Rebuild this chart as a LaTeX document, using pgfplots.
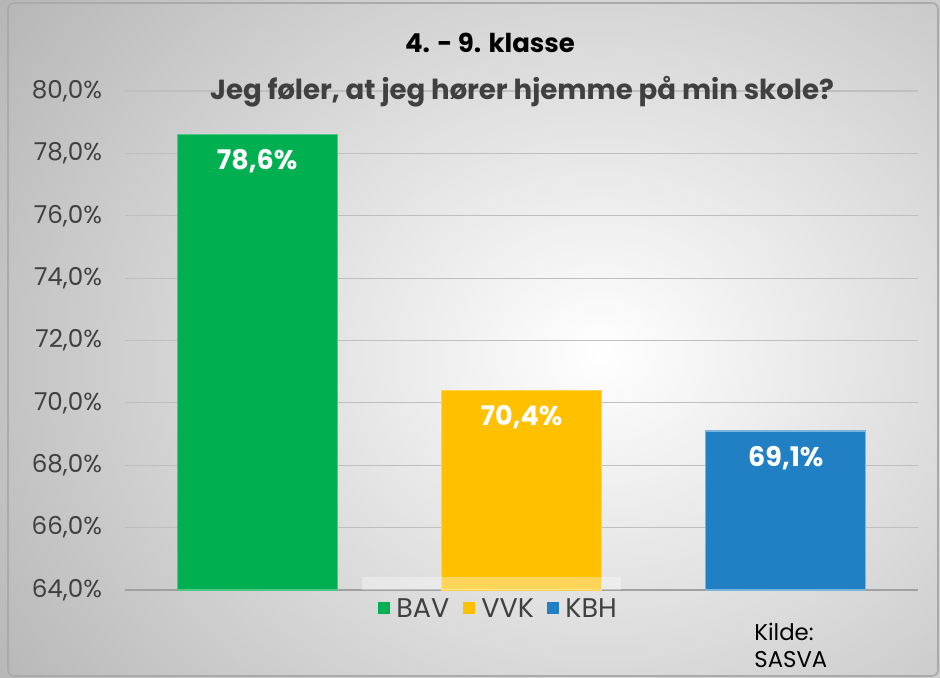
\documentclass[border=0pt]{standalone}
\usepackage{fontspec}
\setmainfont{Poppins}
\usepackage{pgfplots}
\pgfplotsset{compat=1.18}
\definecolor{bav}{RGB}{0,176,80}
\definecolor{vvk}{RGB}{255,192,0}
\definecolor{kbh}{RGB}{33,128,196}
\definecolor{txt}{RGB}{64,64,64}
\definecolor{grid}{RGB}{208,208,208}
\definecolor{axl}{RGB}{160,160,160}
\begin{document}
\begin{tikzpicture}
\useasboundingbox (0,0) rectangle (470pt,339pt);
\begin{scope}[x=0.5pt,y=0.5pt]
\shade[inner color=white, outer color={rgb,255:red,175;green,175;blue,175}]
  (-200,-350) rectangle (1400,1000);
\draw[color={rgb,255:red,170;green,170;blue,170}, line width=0.8pt, rounded corners=3pt] (8,2) rectangle (938,675);
\end{scope}
\begin{axis}[
  at={(62.5pt,44pt)}, anchor=south west,
  scale only axis, width=396.5pt, height=249.5pt,
  ymin=64, ymax=80, ytick={64,66,...,80},
  xmin=-0.5, xmax=2.5,
  xtick=\empty,
  axis x line*=bottom, axis y line*=left,
  x axis line style={draw=axl, line width=0.8pt},
  y axis line style={draw=none},
  ytick style={draw=none},
  ymajorgrids, grid style={grid, line width=0.6pt},
  yticklabel style={font=\fontsize{12.3}{13}\selectfont, text=txt},
  /pgf/number format/assume math mode=true,
  yticklabel={\pgfmathprintnumber[fixed,fixed zerofill,precision=1,use comma]{\tick}\%},
  y tick label style={xshift=-8pt},
  ybar, bar width=80pt, bar shift=0pt,
  nodes near coords={\pgfmathprintnumber[fixed,fixed zerofill,precision=1,use comma]{\pgfplotspointmeta}\%},
  every node near coord/.style={font=\bfseries\fontsize{13.5}{14}\selectfont, text=white, anchor=center, yshift=-13.5pt},
  clip=false,
]
\addplot[fill=bav, draw=bav!70!white, line width=0.6pt] coordinates {(0,78.6)};
\addplot[fill=vvk, draw=vvk!70!white, line width=0.6pt] coordinates {(1,70.4)};
\addplot[fill=kbh, draw=kbh!60!white, line width=0.6pt] coordinates {(2,69.1)};
\end{axis}
\begin{scope}[x=0.5pt,y=0.5pt]
\fill[white, opacity=0.35] (362,88) rectangle (621,101);
\node[font=\bfseries\fontsize{13}{14}\selectfont, text=black] at (490,635) {4. - 9. klasse};
\node[font=\bfseries\fontsize{13.8}{15}\selectfont, text=txt] at (522,586) {Jeg føler, at jeg hører hjemme på min skole?};
\fill[bav] (378,64) rectangle (390,76);
\node[anchor=west, font=\fontsize{13.5}{14}\selectfont, text=txt, inner sep=0pt] at (396,70) {BAV};
\fill[vvk] (463,64) rectangle (475,76);
\node[anchor=west, font=\fontsize{13.5}{14}\selectfont, text=txt, inner sep=0pt] at (481,70) {VVK};
\fill[kbh] (547,64) rectangle (559,76);
\node[anchor=west, font=\fontsize{13.5}{14}\selectfont, text=txt, inner sep=0pt] at (565,70) {KBH};
\node[anchor=west, font=\fontsize{11.4}{12}\selectfont, inner sep=0pt] at (754,46) {Kilde:};
\node[anchor=west, font=\fontsize{11.4}{12}\selectfont, inner sep=0pt] at (754,18) {SASVA};
\end{scope}
\end{tikzpicture}
\end{document}
